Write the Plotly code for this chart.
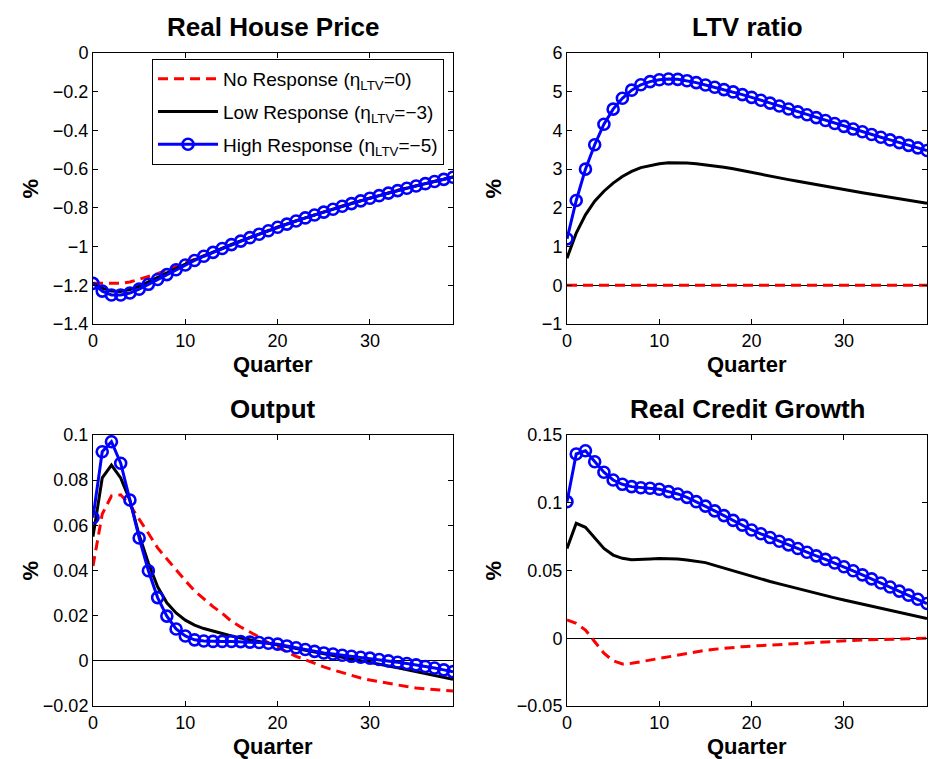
import plotly.graph_objects as go

quarters = list(range(40))

# Real House Price
hp_no = [-1.19, -1.19, -1.19, -1.19, -1.183, -1.17, -1.155, -1.14, -1.12, -1.10,
         -1.084, -1.066, -1.047, -1.028, -1.008, -0.988, -0.97, -0.952, -0.934, -0.916,
         -0.898, -0.882, -0.866, -0.85, -0.835, -0.82, -0.805, -0.79, -0.776, -0.762,
         -0.748, -0.735, -0.722, -0.709, -0.697, -0.685, -0.673, -0.662, -0.651, -0.64]
hp_low = [-1.19, -1.215, -1.23, -1.232, -1.222, -1.205, -1.182, -1.158, -1.135, -1.112,
          -1.09, -1.069, -1.048, -1.029, -1.009, -0.989, -0.971, -0.953, -0.935, -0.917,
          -0.899, -0.883, -0.867, -0.851, -0.836, -0.821, -0.806, -0.791, -0.777, -0.763,
          -0.749, -0.736, -0.723, -0.71, -0.698, -0.686, -0.674, -0.663, -0.652, -0.641]
hp_high = [-1.19, -1.23, -1.25, -1.25, -1.24, -1.22, -1.195, -1.17, -1.145, -1.12,
           -1.095, -1.072, -1.05, -1.03, -1.01, -0.99, -0.972, -0.954, -0.936, -0.918,
           -0.90, -0.884, -0.868, -0.852, -0.837, -0.822, -0.807, -0.792, -0.778, -0.764,
           -0.750, -0.737, -0.724, -0.711, -0.699, -0.687, -0.675, -0.664, -0.653, -0.642]

# LTV ratio
ltv_no = [0, 0, 0, 0, 0, 0, 0, 0, 0, 0,
          0, 0, 0, 0, 0, 0, 0, 0, 0, 0,
          0, 0, 0, 0, 0, 0, 0, 0, 0, 0,
          0, 0, 0, 0, 0, 0, 0, 0, 0, 0]
ltv_low = [0.7, 1.35, 1.82, 2.17, 2.43, 2.64, 2.81, 2.94, 3.04, 3.1,
           3.14, 3.165, 3.17, 3.16, 3.14, 3.115, 3.085, 3.05, 3.01, 2.96,
           2.91, 2.865, 2.82, 2.775, 2.73, 2.685, 2.64, 2.595, 2.55, 2.51,
           2.47, 2.43, 2.39, 2.35, 2.31, 2.27, 2.235, 2.2, 2.165, 2.12]
ltv_high = [1.2, 2.19, 3.0, 3.63, 4.16, 4.55, 4.83, 5.04, 5.18, 5.26,
            5.31, 5.33, 5.32, 5.285, 5.235, 5.175, 5.115, 5.055, 4.995, 4.925,
            4.855, 4.78, 4.705, 4.63, 4.555, 4.48, 4.405, 4.33, 4.255, 4.18,
            4.105, 4.035, 3.965, 3.895, 3.825, 3.755, 3.685, 3.615, 3.55, 3.48]

# Output
out_no = [0.042, 0.065, 0.073, 0.0735, 0.069, 0.063, 0.0565, 0.050, 0.045, 0.040,
          0.0355, 0.031, 0.0275, 0.024, 0.021, 0.0175, 0.015, 0.0128, 0.0105, 0.008,
          0.006, 0.004, 0.002, 0.0005, -0.0012, -0.0027, -0.004, -0.0053, -0.0066, -0.0076,
          -0.0085, -0.0093, -0.01, -0.0107, -0.0114, -0.012, -0.0124, -0.0128, -0.0131, -0.0134]
out_low = [0.055, 0.081, 0.0867, 0.081, 0.071, 0.0557, 0.0433, 0.0328, 0.0257, 0.0212,
           0.018, 0.0158, 0.0143, 0.0131, 0.012, 0.011, 0.0101, 0.0093, 0.0086, 0.0079,
           0.0072, 0.0063, 0.0055, 0.0046, 0.0037, 0.003, 0.0022, 0.0015, 0.0008, 0.0001,
           -0.0006, -0.0014, -0.0023, -0.0031, -0.004, -0.0048, -0.0057, -0.0065, -0.0074, -0.0082]
out_high = [0.0634, 0.0926, 0.097, 0.0875, 0.0712, 0.0544, 0.0399, 0.028, 0.0198, 0.0141,
            0.011, 0.0093, 0.0088, 0.0086, 0.0086, 0.0086, 0.0085, 0.0083, 0.0081, 0.0078,
            0.0074, 0.0066, 0.0058, 0.005, 0.0042, 0.0035, 0.003, 0.0025, 0.002, 0.0016,
            0.0012, 0.0006, 0.0, -0.0006, -0.0012, -0.0018, -0.0025, -0.0032, -0.004, -0.0048]

# Real Credit Growth
cr_no = [0.0135, 0.011, 0.0061, -0.0025, -0.0111, -0.0166, -0.019, -0.0185, -0.0173, -0.0161,
         -0.0148, -0.0135, -0.012, -0.0108, -0.0097, -0.0089, -0.0081, -0.0073, -0.0066, -0.0062,
         -0.0058, -0.0054, -0.0049, -0.0044, -0.0039, -0.0035, -0.0031, -0.0027, -0.0024, -0.0021,
         -0.0018, -0.0016, -0.0013, -0.0011, -0.0008, -0.0006, -0.0004, -0.0002, -0.0001, 0.0]
cr_low = [0.0663, 0.0848, 0.0819, 0.0738, 0.0663, 0.0614, 0.059, 0.0579, 0.058, 0.0585,
          0.0588, 0.0588, 0.0585, 0.0578, 0.057, 0.0558, 0.0538, 0.0518, 0.0497, 0.0476,
          0.0455, 0.0437, 0.0419, 0.0401, 0.0383, 0.0366, 0.0349, 0.0332, 0.0315, 0.0298,
          0.0282, 0.0267, 0.0252, 0.0237, 0.0223, 0.021, 0.0193, 0.0177, 0.016, 0.0145]
cr_high = [0.1008, 0.136, 0.1384, 0.1303, 0.1225, 0.1168, 0.1136, 0.1119, 0.1111, 0.1107,
           0.110, 0.1082, 0.1065, 0.104, 0.1008, 0.0975, 0.094, 0.0905, 0.087, 0.0835,
           0.0799, 0.0771, 0.0743, 0.0716, 0.0689, 0.0662, 0.0635, 0.0608, 0.0582, 0.0555,
           0.0528, 0.0498, 0.0468, 0.0438, 0.0408, 0.0378, 0.0348, 0.0318, 0.0288, 0.0256]

panels = [
    ("Real House Price", hp_no, hp_low, hp_high, [-1.4, 0], 0.2),
    ("LTV ratio", ltv_no, ltv_low, ltv_high, [-1, 6], 1),
    ("Output", out_no, out_low, out_high, [-0.02, 0.1], 0.02),
    ("Real Credit Growth", cr_no, cr_low, cr_high, [-0.05, 0.15], 0.05),
]
names = ["No Response (η<sub>LTV</sub>=0)",
         "Low Response (η<sub>LTV</sub>=−3)",
         "High Response (η<sub>LTV</sub>=−5)"]

# The page body margin is removed (post_script), so the figure fills the window.
W, H = 929, 759


def fx(px):
    return px / W


def fy(py):
    return 1 - py / H


xdoms = [[fx(93), fx(453)], [fx(567), fx(927)]]
ydoms = [[fy(324), fy(53)], [fy(706), fy(435)]]

FONT = "Liberation Sans, Arial, Helvetica, sans-serif"
fig = go.Figure()
annotations = []
layout = {}
for i, (title, no, low, high, yr, dt) in enumerate(panels):
    r, c = divmod(i, 2)
    n = i + 1
    xa = "x" if n == 1 else f"x{n}"
    ya = "y" if n == 1 else f"y{n}"
    show = (i == 0)
    fig.add_trace(go.Scatter(x=quarters, y=no, mode="lines", name=names[0],
                             legendgroup="no",
                             line=dict(color="#ff0000", width=3, dash="10px,6px"),
                             xaxis=xa, yaxis=ya, showlegend=show))
    fig.add_trace(go.Scatter(x=quarters, y=low, mode="lines", name=names[1],
                             legendgroup="low",
                             line=dict(color="#000000", width=3),
                             xaxis=xa, yaxis=ya, showlegend=show))
    fig.add_trace(go.Scatter(x=quarters, y=high, mode="lines+markers", name=names[2],
                             legendgroup="high",
                             line=dict(color="#0000ff", width=3),
                             marker=dict(symbol="circle-open", size=11, color="#0000ff",
                                         line=dict(width=2.6)),
                             xaxis=xa, yaxis=ya, showlegend=show))
    common = dict(showline=True, linecolor="black", linewidth=1, mirror="ticks",
                  ticks="inside", ticklen=5, tickcolor="black", showgrid=False,
                  automargin=False,
                  tickfont=dict(family=FONT, size=18, color="black"))
    layout["xaxis" if n == 1 else f"xaxis{n}"] = dict(
        domain=xdoms[c], range=[0, 39], dtick=10, tick0=0, zeroline=False,
        anchor=ya, **common)
    layout["yaxis" if n == 1 else f"yaxis{n}"] = dict(
        domain=ydoms[r], range=yr, dtick=dt, tick0=0, zeroline=(i != 0),
        zerolinecolor="black", zerolinewidth=1, anchor=xa, **common)
    xc = (xdoms[c][0] + xdoms[c][1]) / 2
    ytop_px = 53 if r == 0 else 435
    ybot_px = 324 if r == 0 else 706
    annotations.append(dict(text=f"<b>{title}</b>", x=xc, y=fy(ytop_px - 26),
                            xref="paper", yref="paper", showarrow=False,
                            xanchor="center", yanchor="middle",
                            font=dict(family=FONT, size=26, color="black")))
    annotations.append(dict(text="<b>Quarter</b>", x=xc, y=fy(ybot_px + 40),
                            xref="paper", yref="paper", showarrow=False,
                            xanchor="center", yanchor="middle",
                            font=dict(family=FONT, size=22, color="black")))
    xpct = 30 if c == 0 else 493
    annotations.append(dict(text="<b>%</b>", x=fx(xpct), y=fy((ytop_px + ybot_px) / 2),
                            xref="paper", yref="paper", showarrow=False, textangle=-90,
                            xanchor="center", yanchor="middle",
                            font=dict(family=FONT, size=22, color="black")))

fig.update_layout(
    width=W, height=H, margin=dict(l=0, r=0, t=0, b=0, autoexpand=False),
    template="none",
    plot_bgcolor="white", paper_bgcolor="white",
    annotations=annotations,
    legend=dict(x=fx(152), y=fy(59), xanchor="left", yanchor="top",
                bordercolor="black", borderwidth=1, bgcolor="white",
                font=dict(family=FONT, size=19, color="black"), itemwidth=60,
                tracegroupgap=5),
    **layout,
)
fig.write_html("out.html",
               config={"displayModeBar": False},
               post_script="document.body.style.margin='0';"
                           "document.body.style.overflow='hidden';")
